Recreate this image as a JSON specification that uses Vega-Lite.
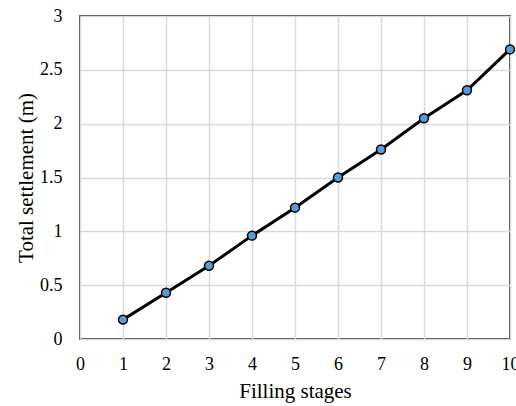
{
  "$schema": "https://vega.github.io/schema/vega-lite/v6.json",
  "autosize": "none",
  "width": 430,
  "height": 323,
  "padding": {"left": 80, "top": 16, "right": 6, "bottom": 67},
  "background": "white",
  "config": {
    "font": "Liberation Serif",
    "view": {"stroke": "black", "strokeWidth": 1.5},
    "axis": {
      "labelFont": "Liberation Serif",
      "titleFont": "Liberation Serif",
      "labelFontSize": 18,
      "titleFontSize": 21,
      "labelColor": "#000000",
      "titleColor": "#000000",
      "titleFontWeight": "normal",
      "gridColor": "#d9d9d9",
      "gridWidth": 1.5,
      "gridOpacity": 1,
      "ticks": false,
      "domain": false
    }
  },
  "data": {
    "values": [
      {"stage": 1, "settlement": 0.18},
      {"stage": 2, "settlement": 0.43},
      {"stage": 3, "settlement": 0.68},
      {"stage": 4, "settlement": 0.96},
      {"stage": 5, "settlement": 1.22},
      {"stage": 6, "settlement": 1.50},
      {"stage": 7, "settlement": 1.76},
      {"stage": 8, "settlement": 2.05},
      {"stage": 9, "settlement": 2.31},
      {"stage": 10, "settlement": 2.69}
    ]
  },
  "encoding": {
    "x": {
      "field": "stage",
      "type": "quantitative",
      "title": "Filling stages",
      "scale": {"domain": [0, 10], "nice": false, "zero": true},
      "axis": {"values": [0,1,2,3,4,5,6,7,8,9,10], "format": "d", "labelPadding": 16, "titlePadding": 7, "labelFlush": false, "labelOverlap": false}
    },
    "y": {
      "field": "settlement",
      "type": "quantitative",
      "title": "Total settlement (m)",
      "scale": {"domain": [0, 3], "nice": false},
      "axis": {"values": [0,0.5,1,1.5,2,2.5,3], "format": "~g", "labelPadding": 18, "titlePadding": 3, "labelFlush": false, "labelOverlap": false}
    }
  },
  "layer": [
    {"mark": {"type": "line", "color": "black", "strokeWidth": 3, "clip": false}},
    {"mark": {"type": "point", "shape": "circle", "filled": true, "fill": "#5b9bd5", "stroke": "black", "strokeWidth": 1.5, "size": 80, "opacity": 1, "clip": false}}
  ]
}
